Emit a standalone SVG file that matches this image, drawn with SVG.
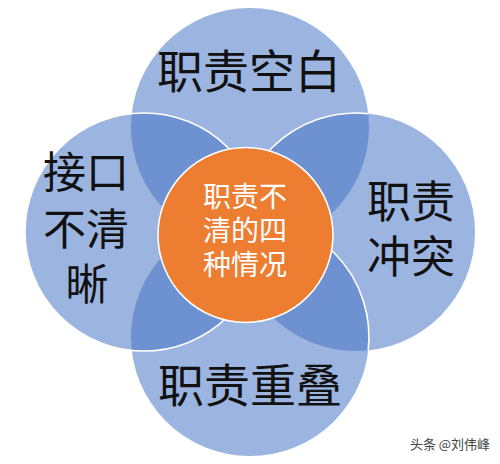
<svg xmlns="http://www.w3.org/2000/svg" width="500" height="464" viewBox="0 0 500 464">
<style>
.petal{fill:#4472C4;fill-opacity:0.53;stroke:none}
.edge{fill:none;stroke:#ffffff;stroke-width:1.6}
.lbl{font-family:"Noto Sans CJK SC","Noto Sans",sans-serif;fill:#111111;text-anchor:middle}
.ctr{font-family:"Noto Sans CJK SC","Noto Sans",sans-serif;fill:#ffffff;text-anchor:middle;font-size:28px}
</style>
<rect width="500" height="464" fill="#ffffff"/>
<g id="node-top"><circle class="petal" cx="250" cy="127" r="119"/></g>
<g id="node-left"><circle class="petal" cx="144" cy="232" r="119"/></g>
<g id="node-right"><circle class="petal" cx="356" cy="232" r="119"/></g>
<g id="node-bottom"><circle class="petal" cx="250" cy="337" r="119"/></g>
<g id="outlines">
<circle class="edge" cx="144" cy="232" r="119"/>
<path class="edge" d="M237.8,245.4 A119,119 0 0 1 368.2,113.6"/>
<path class="edge" d="M237.8,218.6 A119,119 0 0 1 368.2,350.4"/>
</g>
<g id="labels">
<text class="lbl" x="249" y="88" font-size="46">职责空白</text>
<text class="lbl" x="86" font-size="43"><tspan x="86" y="188">接口</tspan><tspan x="86" y="245">不清</tspan><tspan x="87" y="300">晰</tspan></text>
<text class="lbl" x="411" font-size="44"><tspan x="411" y="218">职责</tspan><tspan x="411" y="273">冲突</tspan></text>
<text class="lbl" x="250" y="402" font-size="46">职责重叠</text>
</g>
<g id="node-center">
<circle cx="245.5" cy="235" r="87.5" fill="#ED7D31" stroke="#ffffff" stroke-width="1.6"/>
<text class="ctr"><tspan x="245" y="207">职责不</tspan><tspan x="245" y="241">清的四</tspan><tspan x="245" y="275">种情况</tspan></text>
</g>
<g id="watermark">
<text x="450" y="449" font-family="Noto Sans CJK SC,sans-serif" font-size="13" fill="#444444" text-anchor="middle">头条 @刘伟峰</text>
</g>
</svg>
